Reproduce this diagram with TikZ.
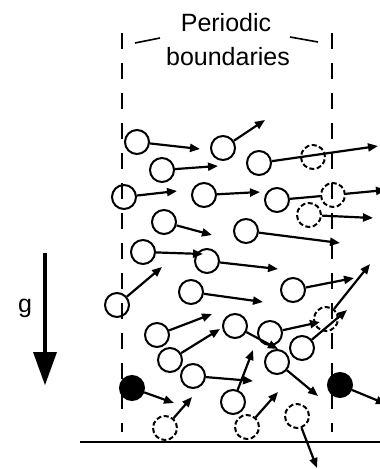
\documentclass[tikz,border=0pt]{standalone}
\usepackage{fontspec}
\setmainfont{Liberation Sans}
\usetikzlibrary{arrows.meta}

\tikzset{
  grain/.style={circle, draw, line width=2pt, minimum size=24pt, inner sep=0pt},
  ghost/.style={grain, dash pattern=on 5pt off 2.5pt},
  heavy/.style={grain, fill=black},
  vel/.style={line width=2.2pt, -{Triangle[length=10pt, width=8pt]}},
  wall/.style={line width=1.8pt, dash pattern=on 16pt off 14pt}
}

\begin{document}
\begin{tikzpicture}[x=1pt, y=-1pt]

\useasboundingbox (0,0) rectangle (380,469);
\clip (0,0) rectangle (380,469);

% the two periodic walls and the floor
\draw[wall] (122,33)--(122,432);
\draw[wall] (332,33)--(332,432);
\draw[line width=2.8pt] (80,442)--(380,442);

\node[font=\fontsize{25}{29}\selectfont] (title1) at (226,23) {Periodic};
\node[font=\fontsize{25}{29}\selectfont] (title2) at (228,57) {boundaries};
\draw[line width=1.6pt] (135,43)--(160,38);
\draw[line width=1.6pt] (290,37)--(318,42);

% gravity
\node[font=\fontsize{25}{29}\selectfont] (glabel) at (25,308) {g};
\draw[line width=4.5pt] (45,253)--(45,358);
\fill (33,352)--(57,352)--(45,385)--cycle;

\foreach \n/\x/\y/\u/\v in {% name, centre and tip of the velocity
    a1/137/142/200/149, a2/223/148/265/120, a3/162/170/218/166,
    a4/259/163/378/146, a5/124/197/177/191, a6/204/195/260/192,
    a8/164/222/212/235, a9/246/231/340/243, a10/143/252/203/254,
    a11/207/261/278/269, a12/117/305/162/267, a13/191/292/263/302,
    a14/293/290/354/278, a15/302/348/347/310, a16/157/335/212/314,
    a17/235/326/278/349, a18/270/333/320/322, a19/170/360/220/329,
    a20/193/376/253/381, a21/277/362/318/396, a22/233/402/253/350}{%
    \node[grain] (\n) at (\x,\y) {};
    \coordinate (v\n) at (\u,\v);
    \draw[vel] (\n)--(v\n);}

\foreach \n/\x/\y/\u/\v in {% images across the walls
    g3/309/215/373/218, g4/326/319/370/264,
    g5/247/427/278/392, g6/165/428/192/397, g7/297/416/317/468}{%
    \node[ghost] (\n) at (\x,\y) {};
    \coordinate (v\n) at (\u,\v);
    \draw[vel] (\n)--(v\n);}

\node[ghost] (g1) at (313,157) {};
\node[grain] (a7) at (277,200) {};
\node[ghost] (g2) at (333,195) {};
\coordinate (vg2) at (386,190);
\draw[line width=2.2pt] (a7)--(g2);
\draw[vel] (g2)--(vg2);

\node[heavy] (b1) at (132,388) {};
\coordinate (vb1) at (174,403);
\draw[vel] (b1)--(vb1);
\node[heavy] (b2) at (340,385) {};
\coordinate (vb2) at (386,404);
\draw[vel] (b2)--(vb2);

\end{tikzpicture}
\end{document}
